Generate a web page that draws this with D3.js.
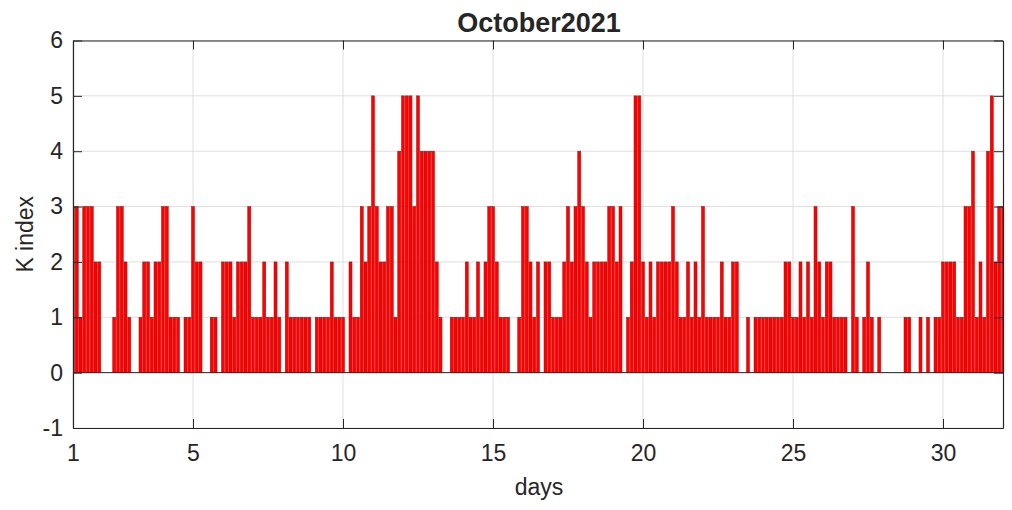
<!DOCTYPE html>
<html>
<head>
<meta charset="utf-8">
<script src="https://cdn.jsdelivr.net/npm/d3@7"></script>
<style>
  body { margin: 0; background: #fff; }
  svg text { font-family: "Liberation Sans", Arial, sans-serif; fill: #262626; }
</style>
</head>
<body>
<svg id="chart" width="1012" height="510"></svg>
<script>
// K index, one value every 3 hours (8 per day), October 2021
var kDay01 = [3,3,1,3,3,3,2,2];
var kDay02 = [0,0,0,1,3,3,2,1];
var kDay03 = [0,0,1,2,2,1,2,2];
var kDay04 = [3,3,1,1,1,0,1,1];
var kDay05 = [3,2,2,0,0,1,1,0];
var kDay06 = [2,2,2,1,2,2,2,3];
var kDay07 = [1,1,1,2,1,1,2,1];
var kDay08 = [0,2,1,1,1,1,1,1];
var kDay09 = [0,1,1,1,1,2,1,1];
var kDay10 = [1,0,2,1,1,3,2,3];
var kDay11 = [5,3,2,2,3,3,1,4];
var kDay12 = [5,5,5,3,5,4,4,4];
var kDay13 = [4,2,1,0,0,1,1,1];
var kDay14 = [1,2,1,1,2,1,2,3];
var kDay15 = [3,2,1,1,1,0,0,1];
var kDay16 = [3,3,2,1,2,0,2,2];
var kDay17 = [1,1,1,2,3,2,3,4];
var kDay18 = [3,2,1,2,2,2,2,3];
var kDay19 = [3,2,3,0,1,2,5,5];
var kDay20 = [2,1,2,1,2,2,2,2];
var kDay21 = [3,2,1,1,2,1,2,1];
var kDay22 = [3,1,1,1,1,2,1,1];
var kDay23 = [2,2,0,0,1,0,1,1];
var kDay24 = [1,1,1,1,1,1,2,2];
var kDay25 = [1,1,2,1,2,1,3,2];
var kDay26 = [1,2,2,1,1,1,1,0];
var kDay27 = [3,1,0,1,2,1,0,1];
var kDay28 = [0,0,0,0,0,0,1,1];
var kDay29 = [0,0,1,0,1,0,1,1];
var kDay30 = [2,2,2,2,1,1,3,3];
var kDay31 = [4,1,2,1,4,5,2,3];
var kDay32 = [3];

var xTicks = [1, 5, 10, 15, 20, 25, 30];
var yTicks = [-1, 0, 1, 2, 3, 4, 5, 6];
var titleText = "October2021";
var xLabel = "days";
var yLabel = "K index";

var kValues = [].concat(kDay01, kDay02, kDay03, kDay04, kDay05, kDay06, kDay07, kDay08,
  kDay09, kDay10, kDay11, kDay12, kDay13, kDay14, kDay15, kDay16, kDay17, kDay18,
  kDay19, kDay20, kDay21, kDay22, kDay23, kDay24, kDay25, kDay26, kDay27, kDay28,
  kDay29, kDay30, kDay31, kDay32);
var data = kValues.map(function(v, i) { return { day: 1 + i / 8, k: v }; });

var svg = d3.select("#chart");
var margin = { top: 40.5, right: 9, bottom: 82, left: 73 },
    width = 1012 - margin.left - margin.right,
    height = 510 - margin.top - margin.bottom;

var x = d3.scaleLinear().domain([1, 32]).range([0, width]);
var y = d3.scaleLinear().domain([-1, 6]).range([height, 0]);

var g = svg.append("g")
    .attr("transform", "translate(" + margin.left + "," + margin.top + ")");

svg.append("defs").append("clipPath").attr("id", "plotclip")
  .append("rect").attr("width", width).attr("height", height);

// grid
g.append("g").selectAll("line").data(xTicks).enter().append("line")
    .attr("x1", x).attr("x2", x).attr("y1", 0).attr("y2", height)
    .attr("stroke", "#dedede").attr("stroke-width", 1);
g.append("g").selectAll("line").data(yTicks).enter().append("line")
    .attr("y1", y).attr("y2", y).attr("x1", 0).attr("x2", width)
    .attr("stroke", "#dedede").attr("stroke-width", 1);

// bars
var barW = x(1 + 0.8 / 8) - x(1);
g.append("g").attr("clip-path", "url(#plotclip)")
  .selectAll("rect").data(data.filter(function(d) { return d.k > 0; })).enter().append("rect")
    .attr("x", function(d) { return x(d.day) - barW / 2; })
    .attr("width", barW)
    .attr("y", function(d) { return y(d.k); })
    .attr("height", function(d) { return y(0) - y(d.k); })
    .attr("fill", "#ff0000")
    .attr("stroke", "#b80000")
    .attr("stroke-width", 0.5);

// baseline
g.append("line")
    .attr("x1", 0).attr("x2", width).attr("y1", y(0)).attr("y2", y(0))
    .attr("stroke", "#262626").attr("stroke-width", 1);

// axes (MATLAB-like box with inward ticks)
var tickLen = 9;
var plain = function(d) { return String(d); };
var xAxisB = d3.axisBottom(x).tickValues(xTicks).tickSizeInner(-tickLen).tickSizeOuter(0).tickPadding(17).tickFormat(plain);
var xAxisT = d3.axisTop(x).tickValues(xTicks).tickSizeInner(-tickLen).tickSizeOuter(0).tickFormat("");
var yAxisL = d3.axisLeft(y).tickValues(yTicks).tickSizeInner(-tickLen).tickSizeOuter(0).tickPadding(10).tickFormat(plain);
var yAxisR = d3.axisRight(y).tickValues(yTicks).tickSizeInner(-tickLen).tickSizeOuter(0).tickFormat("");

function styleAxis(sel) {
  sel.select(".domain").attr("stroke", "#262626").attr("stroke-width", 1.2);
  sel.selectAll(".tick line").attr("stroke", "#262626");
  sel.selectAll(".tick text").attr("font-size", "23px")
     .attr("font-family", "Liberation Sans, Arial, sans-serif").attr("fill", "#262626");
}

g.append("g").attr("transform", "translate(0," + height + ")").call(xAxisB).call(styleAxis);
g.append("g").call(xAxisT).call(styleAxis);
g.append("g").call(yAxisL).call(styleAxis);
g.append("g").attr("transform", "translate(" + width + ",0)").call(yAxisR).call(styleAxis);

// labels
svg.append("text")
    .attr("x", margin.left + width / 2 + 1).attr("y", 32)
    .attr("text-anchor", "middle")
    .attr("font-size", "27px").attr("font-weight", "bold")
    .attr("fill", "#000")
    .text(titleText);

svg.append("text")
    .attr("x", margin.left + width / 2 + 1).attr("y", 495)
    .attr("text-anchor", "middle")
    .attr("font-size", "23px")
    .text(xLabel);

svg.append("text")
    .attr("transform", "translate(33," + (margin.top + y(2.5)) + ") rotate(-90)")
    .attr("text-anchor", "middle")
    .attr("font-size", "23px")
    .text(yLabel);
</script>
</body>
</html>
